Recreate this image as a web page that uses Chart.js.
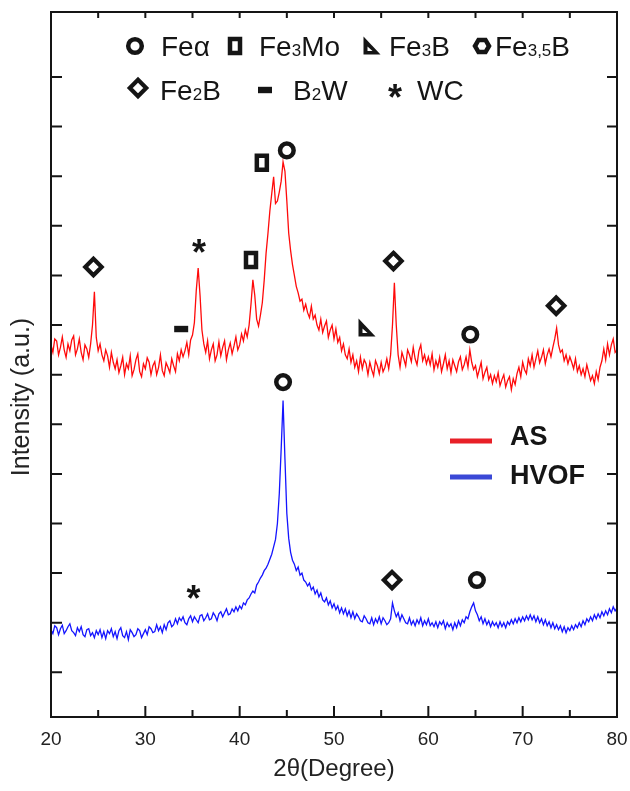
<!DOCTYPE html>
<html lang="en">
<head>
<meta charset="UTF-8" />
<title>XRD AS vs HVOF</title>
<script src="https://cdn.jsdelivr.net/npm/chart.js"></script>
<style>
  body { margin: 0; background: #fff; }
  canvas { display: block; }
</style>
</head>
<body>
<canvas id="xrd" width="630" height="791"></canvas>
<script>
// ---- data ----
const startDeg = 20, stepDeg = 0.2;
const twoTheta = Array.from({ length: 301 }, (_, i) => +(startDeg + i * stepDeg).toFixed(1));

// AS coating (red), one row per degree
const asIntensity = [
  660, 645, 672, 668, 640,   655, 676, 650, 635, 662,   648, 670, 678, 640, 652,   672, 645, 630, 660, 652,
  635, 662, 700, 767, 675,   648, 662, 640, 628, 650,   638, 615, 645, 625, 612,   630, 604, 618, 635, 600,
  622, 612, 638, 598, 610,   630, 642, 606, 596, 622,   612, 634, 625, 600, 618,   626, 600, 614, 640, 608,
  598, 624, 615, 604, 632,   618, 606, 642, 628, 650,   636, 648, 665, 640, 670,   680, 705, 770, 815, 760,
  690, 662, 645, 668, 632,   650, 662, 628, 640, 666,   638, 655, 668, 630, 650,   664, 642, 658, 676, 650,
  660, 682, 668, 690, 676,   700, 742, 791, 760, 712,   698, 720, 745, 790, 845,   885, 930, 965, 999, 945,
  950, 968, 990, 1029, 1010, 950, 885, 850, 822, 800,   778, 765, 748, 752, 730,   742, 725, 715, 738, 712,
  720, 700, 690, 712, 685,   698, 708, 675, 690, 700,   672, 692, 665, 675, 648,   662, 640, 632, 652, 625,
  640, 615, 628, 606, 635,   612, 630, 622, 600, 625,   610, 598, 628, 618, 602,   625, 606, 615, 632, 612,
  640, 700, 785, 700, 640,   615, 645, 632, 618, 650,   640, 626, 655, 632, 620,   648, 660, 628, 640, 622,
  636, 620, 642, 610, 628,   615, 635, 606, 622, 640,   612, 628, 604, 630, 618,   606, 626, 636, 610, 620,
  636, 615, 650, 625, 610,   618, 596, 610, 625, 592,   605, 615, 590, 600, 582,   598, 586, 604, 578, 590,
  600, 575, 588, 596, 570,   592, 580, 602, 615, 596,   625, 610, 602, 632, 618,   640, 615, 632, 648, 624,
  635, 650, 622, 640, 652,   636, 655, 672, 694, 660,   645, 650, 628, 640, 622,   636, 625, 612, 632, 606,
  618, 600, 612, 596, 620,   604, 588, 598, 582, 606,   590, 615, 628, 652, 630,   662, 640, 660, 672, 645,
  650
];

// HVOF coating (blue)
const hvofIntensity = [
  86, 78, 94, 90, 76,        88, 95, 78, 84, 92,        98, 84, 80, 74, 90,        82, 92, 76, 72, 86,
  88, 74, 80, 70, 84,        76, 86, 70, 82, 68,        84, 78, 88, 72, 82,        68, 84, 90, 74, 70,
  82, 66, 86, 80, 72,        76, 88, 84, 70, 78,        86, 76, 92, 88, 80,        82, 96, 84, 92, 80,
  96, 86, 100, 104, 92,      96, 108, 98, 110, 104,     112, 100, 96, 108, 114,    102, 112, 106, 100, 114,
  116, 104, 110, 118, 106,   108, 120, 114, 104, 118,   122, 112, 120, 128, 116,   118, 128, 122, 132, 124,
  134, 128, 140, 136, 146,   150, 158, 164, 160, 176,   182, 190, 196, 205, 210,   218, 228, 238, 253, 268,
  300, 360, 450, 548, 430,   320, 270, 242, 226, 218,   205, 212, 196, 200, 186,   182, 174, 180, 166, 172,
  158, 166, 152, 160, 146,   142, 150, 136, 144, 130,   138, 126, 134, 120, 130,   118, 128, 114, 124, 110,
  122, 108, 118, 112, 104,   102, 114, 108, 100, 98,    110, 96, 108, 100, 112,    98, 110, 104, 96, 100,
  108, 140, 124, 112, 120,   104, 116, 108, 100, 98,    110, 96, 104, 94, 106,     98, 110, 94, 104, 96,
  108, 94, 100, 92, 102,     90, 102, 96, 104, 88,      100, 92, 98, 86, 100,      90, 104, 94, 106, 100,
  112, 108, 122, 132, 140,   124, 116, 104, 112, 98,    108, 96, 104, 92, 102,     94, 100, 90, 102, 92,
  100, 90, 102, 96, 106,     98, 108, 100, 110, 102,    112, 104, 114, 106, 116,   106, 114, 102, 112, 100,
  108, 96, 106, 94, 102,     90, 100, 88, 96, 86,       94, 82, 92, 80, 90,        84, 94, 86, 96, 90,
  100, 92, 104, 96, 108,     102, 112, 104, 116, 108,   118, 110, 122, 114, 124,   116, 128, 120, 132, 124,
  130
];

const seriesNames = ['AS', 'HVOF'];

// phase keys and their labels ([text, isSubscript])
const phaseKeys = ['Fea', 'Fe3Mo', 'Fe3B', 'Fe35B', 'Fe2B', 'B2W', 'WC'];
const phaseLabels = [
  [['Fe'], ['α']],
  [['Fe'], ['3', 1], ['Mo']],
  [['Fe'], ['3', 1], ['B']],
  [['Fe'], ['3,5', 1], ['B']],
  [['Fe'], ['2', 1], ['B']],
  [['B'], ['2', 1], ['W']],
  [['WC']]
];

// phase marks above peaks: [phase, 2θ, intensity]
const asPeakMarks = [
  ['Fe2B', 24.5, 817], ['WC', 35.7, 862], ['B2W', 33.8, 692], ['Fe3Mo', 41.2, 831],
  ['Fe3Mo', 42.35, 1027], ['Fea', 45.0, 1052], ['Fe3B', 53.5, 694], ['Fe2B', 56.3, 829],
  ['Fea', 64.45, 681], ['Fe2B', 73.55, 739]
];
const hvofPeakMarks = [
  ['Fea', 44.6, 585], ['WC', 35.1, 163], ['Fe2B', 56.15, 186], ['Fea', 65.15, 186]
];

// ---- drawing ----
const FONT = '"Liberation Sans", Arial, Helvetica, sans-serif';
const INK = '#151515';

function drawMark(ctx, key, cx, cy) {
  ctx.save();
  ctx.strokeStyle = INK;
  ctx.fillStyle = INK;
  ctx.lineWidth = 4.5;
  ctx.lineJoin = 'miter';
  ctx.beginPath();
  if (key === 'Fea') {
    ctx.arc(cx, cy, 6.8, 0, Math.PI * 2);
    ctx.stroke();
  } else if (key === 'Fe3Mo') {
    ctx.rect(cx - 5, cy - 7, 10, 14);
    ctx.stroke();
  } else if (key === 'Fe2B') {
    ctx.lineWidth = 4.2;
    ctx.moveTo(cx, cy - 8.2); ctx.lineTo(cx + 8.2, cy); ctx.lineTo(cx, cy + 8.2); ctx.lineTo(cx - 8.2, cy);
    ctx.closePath();
    ctx.stroke();
  } else if (key === 'Fe35B') {
    for (let k = 0; k < 6; k++) {
      const a = Math.PI / 3 * k;
      const px = cx + 7 * Math.cos(a), py = cy + 7 * Math.sin(a);
      k ? ctx.lineTo(px, py) : ctx.moveTo(px, py);
    }
    ctx.closePath();
    ctx.stroke();
  } else if (key === 'Fe3B') {
    ctx.moveTo(cx - 8.5, cy - 9.5); ctx.lineTo(cx + 8.5, cy + 8.5); ctx.lineTo(cx - 8.5, cy + 8.5);
    ctx.closePath();
    ctx.fill();
    ctx.fillStyle = '#fff';
    ctx.beginPath();
    ctx.moveTo(cx - 4.5, cy + 0.5); ctx.lineTo(cx + 0.5, cy + 5); ctx.lineTo(cx - 4.5, cy + 5);
    ctx.closePath();
    ctx.fill();
  } else if (key === 'B2W') {
    ctx.fillRect(cx - 7, cy - 3.2, 14, 6.4);
  } else if (key === 'WC') {
    ctx.font = 'bold 36px ' + FONT;
    ctx.textAlign = 'center';
    ctx.textBaseline = 'alphabetic';
    ctx.fillText('*', cx, cy + 20);
  }
  ctx.restore();
}

function drawRich(ctx, parts, x, y, size) {
  let cx = x;
  parts.forEach(([t, sub]) => {
    ctx.font = (sub ? Math.round(size * 0.62) : size) + 'px ' + FONT;
    ctx.fillText(t, cx, y);
    cx += ctx.measureText(t).width;
  });
}

const xrdDecor = {
  id: 'xrdDecor',
  afterDraw(chart) {
    const { ctx, chartArea: a, scales: { x, y } } = chart;
    ctx.save();

    // frame + inward ticks
    ctx.strokeStyle = INK;
    ctx.lineWidth = 2;
    ctx.strokeRect(a.left, a.top, a.right - a.left, a.bottom - a.top);
    ctx.beginPath();
    for (let d = 20; d <= 80; d += 5) {
      const px = x.getPixelForValue(d);
      ctx.moveTo(px, a.bottom); ctx.lineTo(px, a.bottom - (d % 10 === 0 ? 11 : 7));
      ctx.moveTo(px, a.top); ctx.lineTo(px, a.top + 6);
    }
    for (let v = 0; v <= 1200; v += 100) {
      const py = y.getPixelForValue(v);
      ctx.moveTo(a.left, py); ctx.lineTo(a.left + 11, py);
      ctx.moveTo(a.right, py); ctx.lineTo(a.right - 10, py);
    }
    ctx.stroke();

    // phase marks on peaks
    asPeakMarks.concat(hvofPeakMarks).forEach(([k, d, v]) => {
      drawMark(ctx, k, x.getPixelForValue(d), y.getPixelForValue(v));
    });

    // phase key at the top
    const keyPos = {
      Fea: [135, 46, 161, 56], Fe3Mo: [235, 46, 259, 56], Fe3B: [372, 46, 389, 56], Fe35B: [482, 46, 495, 56],
      Fe2B: [138, 88, 160, 100], B2W: [265, 90, 293, 100], WC: [395, 90, 417, 100]
    };
    ctx.fillStyle = INK;
    ctx.textBaseline = 'alphabetic';
    ctx.textAlign = 'left';
    phaseKeys.forEach((k, i) => {
      const [mx, my, tx, ty] = keyPos[k];
      drawMark(ctx, k, mx, my);
      ctx.fillStyle = INK;
      drawRich(ctx, phaseLabels[i], tx, ty, 28);
    });

    // series legend
    const legendColors = ['rgb(232,32,40)', 'rgb(58,72,214)'];
    const legendY = [441, 477];
    seriesNames.forEach((name, i) => {
      ctx.strokeStyle = legendColors[i];
      ctx.lineWidth = 5;
      ctx.beginPath();
      ctx.moveTo(450, legendY[i]); ctx.lineTo(492, legendY[i]);
      ctx.stroke();
      ctx.fillStyle = INK;
      ctx.font = 'bold 27px ' + FONT;
      ctx.textBaseline = 'middle';
      ctx.fillText(name, 510, legendY[i] - 3 + i * 3);
    });

    // y axis title
    ctx.translate(22, 397);
    ctx.rotate(-Math.PI / 2);
    ctx.font = '25px ' + FONT;
    ctx.textAlign = 'center';
    ctx.textBaseline = 'middle';
    ctx.fillStyle = '#222';
    ctx.fillText('Intensity (a.u.)', 0, 0);
    ctx.restore();
  }
};

new Chart(document.getElementById('xrd'), {
  type: 'line',
  data: {
    datasets: [
      {
        label: seriesNames[0],
        data: twoTheta.map((d, i) => ({ x: d, y: asIntensity[i] })),
        borderColor: '#ff0a0a',
        borderWidth: 1.3,
        pointRadius: 0,
        tension: 0
      },
      {
        label: seriesNames[1],
        data: twoTheta.map((d, i) => ({ x: d, y: hvofIntensity[i] })),
        borderColor: '#1414ff',
        borderWidth: 1.3,
        pointRadius: 0,
        tension: 0
      }
    ]
  },
  options: {
    responsive: false,
    animation: false,
    devicePixelRatio: 1,
    layout: { padding: { top: 12, right: 13, left: 0, bottom: 0 } },
    plugins: { legend: { display: false }, tooltip: { enabled: false } },
    scales: {
      x: {
        type: 'linear',
        min: 20,
        max: 80,
        grid: { display: false, drawTicks: false },
        border: { display: false },
        ticks: { stepSize: 10, autoSkip: false, maxRotation: 0, padding: 11, color: '#222', font: { family: FONT, size: 19 } },
        title: { display: true, text: '2θ(Degree)', color: '#222', font: { family: FONT, size: 24 }, padding: { top: 0, bottom: 7 } },
        afterFit: s => { s.height = 74; s.paddingLeft = 0; s.paddingRight = 0; }
      },
      y: {
        min: -90,
        max: 1331,
        grid: { display: false, drawTicks: false },
        border: { display: false },
        ticks: { display: false },
        afterFit: s => { s.width = 51; }
      }
    }
  },
  plugins: [xrdDecor]
});
</script>
</body>
</html>
